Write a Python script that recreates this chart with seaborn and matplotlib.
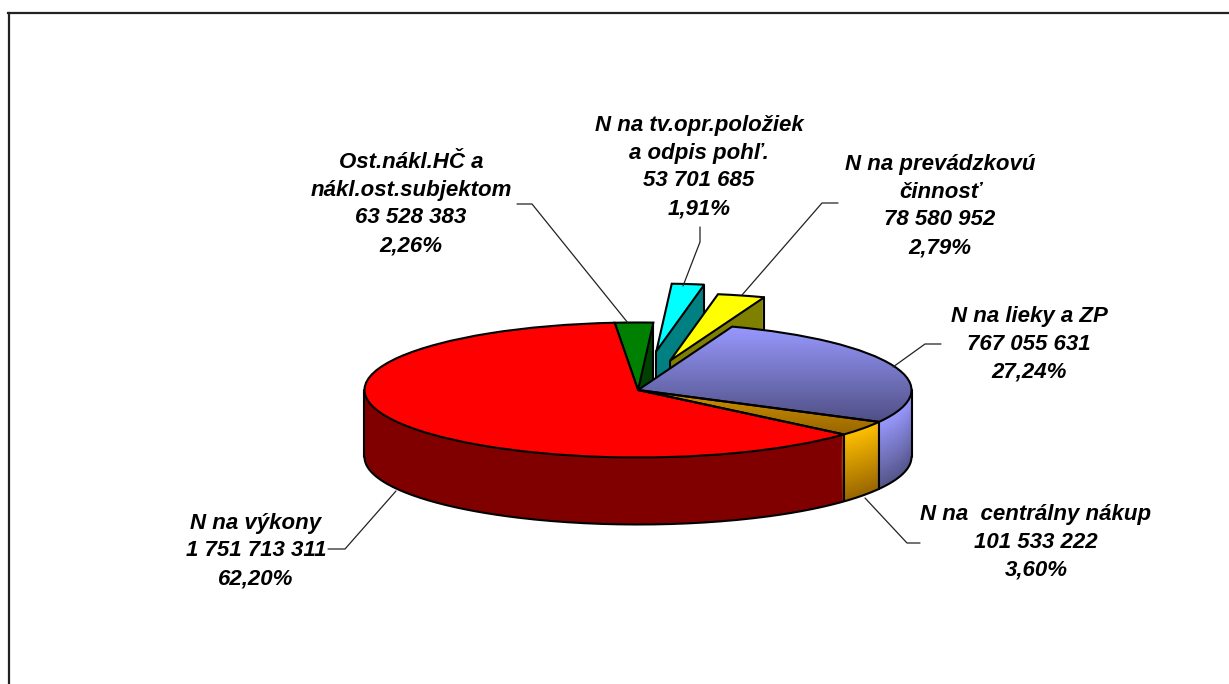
import numpy as np
import matplotlib
matplotlib.use("Agg")
import matplotlib.pyplot as plt
from matplotlib.colors import LinearSegmentedColormap, to_rgb
import seaborn as sns

# Chart data, clockwise from the top of the pie
names = ["Ost.nákl.HČ a\nnákl.ost.subjektom", "N na tv.opr.položiek\na odpis pohľ.",
         "N na prevádzkovú\nčinnosť", "N na lieky a ZP", "N na  centrálny nákup", "N na výkony"]
values = [63528383, 53701685, 78580952, 767055631, 101533222, 1751713311]
percents = [2.26, 1.91, 2.79, 27.24, 3.60, 62.20]
explode = [0, 0.58, 0.45, 0, 0, 0]

top_start = ["#008000", "#00FFFF", "#FFFF00", "#9999FF", "#D09400", "#FF0000"]
top_end = ["#008000", "#00FFFF", "#FFFF00", "#4F4F85", "#996600", "#FF0000"]
wall_start = ["#004000", "#008080", "#808000", "#9999FF", "#FFC000", "#800000"]
wall_end = ["#004000", "#008080", "#808000", "#55558A", "#996600", "#800000"]

# Layout, in pixels of the 1229x684 picture
W, H = 1229, 684
CX, CY, RX, RY = 638, 390, 273.5, 67.5
LEFT, TOP = 8.5, 13
START = 94.9
DEPTH = 67 / RY
N_LAYERS = 67

label_pos = [(411, 204), (699, 167), (940, 206), (1029, 344), (1036, 542), (256, 551)]
leaders = [[(517, 204), (532, 204), (628, 323)],
           [(700, 227), (700, 242), (683, 286)],
           [(838, 203), (822, 203), (742, 295)],
           [(941, 344), (925, 344), (893, 367)],
           [(920, 543), (907, 543), (865, 498)],
           [(328, 549), (345, 549), (396, 491)]]


def px(x, y):
    return (x - CX) / RX, (CY - y) / RY


def mix(a, b, t):
    a, b = np.array(to_rgb(a)), np.array(to_rgb(b))
    return tuple(a + (b - a) * t)


sns.set_theme(style="white", rc={"axes.edgecolor": "#222222", "axes.linewidth": 1.6})
plt.rcParams["font.family"] = ["Liberation Sans", "DejaVu Sans"]

fig = plt.figure(figsize=(W / 100, H / 100), dpi=100)
ax = fig.add_axes([LEFT / W, 0, 1 - LEFT / W, 1 - TOP / H])

back = [0, 1, 2]
fracs = np.array(values) / sum(values)
edges = START - 360 * np.concatenate([[0], np.cumsum(fracs)])
mids = (edges[:-1] + edges[1:]) / 2

# Sides of the pie: a stack of pies going down, dark colours
for k in range(N_LAYERS):
    t = 1 - k / (N_LAYERS - 1)  # 1 at the bottom, 0 just under the top
    colors = [mix(wall_start[i], wall_end[i], t) for i in range(len(values))]
    wedges, _ = ax.pie(values, explode=explode, colors=colors, startangle=START, counterclock=False,
                       center=(0, -DEPTH * t), wedgeprops=dict(linewidth=0))
    for i, w in enumerate(wedges):
        w.set_zorder(1000 * (i + 1) + k if i in back else 10000 + k)

# Top surface
wedges, _ = ax.pie(values, explode=explode, colors=top_start, startangle=START, counterclock=False,
                   wedgeprops=dict(linewidth=0))
for i, w in enumerate(wedges):
    w.set_zorder(1000 * (i + 1) + N_LAYERS + 1 if i in back else 20000)
    if top_start[i] != top_end[i]:
        cmap = LinearSegmentedColormap.from_list("top", [top_start[i], top_end[i]])
        box = w.get_path().get_extents()
        im = ax.imshow(np.linspace(0, 1, 256).reshape(-1, 1), cmap=cmap, aspect="auto", zorder=20001,
                       extent=(box.x0, box.x1, box.y0, box.y1), origin="upper")
        im.set_clip_path(w)

outlines, _ = ax.pie(values, explode=explode, colors=["none"] * len(values), startangle=START,
                     counterclock=False, wedgeprops=dict(linewidth=1.5, edgecolor="black"))
for i, w in enumerate(outlines):
    w.set_facecolor("none")
    w.set_zorder(1000 * (i + 1) + N_LAYERS + 2 if i in back else 20002)


# Black lines on the sides
def side_line(angle, i, outer=True):
    a, m = np.radians(angle), np.radians(mids[i])
    x = explode[i] * np.cos(m) + (np.cos(a) if outer else 0)
    y = explode[i] * np.sin(m) + (np.sin(a) if outer else 0)
    z = 1000 * (i + 1) + N_LAYERS + 0.5 if i in back else 15000
    ax.plot([x, x], [y, y - DEPTH], color="black", lw=1.5, zorder=z)


side_line(edges[1], 0)
side_line(edges[2], 1)
side_line(edges[3], 2)
side_line(edges[1], 1, outer=False)
side_line(edges[2], 2, outer=False)
side_line(edges[4], 3)
side_line(edges[5], 4)
side_line(0, 3)
side_line(180, 5)
arc = np.radians(np.linspace(180, 360, 200))
ax.plot(np.cos(arc), np.sin(arc) - DEPTH, color="black", lw=1.5, zorder=15000)

# Labels and leader lines
for i in range(len(values)):
    number = f"{values[i]:,}".replace(",", " ")
    pct = f"{percents[i]:.2f}%".replace(".", ",")
    x, y = px(*label_pos[i])
    ax.text(x, y, f"{names[i]}\n{number}\n{pct}", ha="center", va="center", fontsize=16,
            fontweight="bold", fontstyle="italic", color="black", linespacing=1.42, zorder=30000)
    line = np.array([px(*p) for p in leaders[i]])
    ax.plot(line[:, 0], line[:, 1], color="#222222", lw=0.9, zorder=25000)

ax.set_aspect("auto")
ax.set_xlim((LEFT - CX) / RX, (W - CX) / RX)
ax.set_ylim((CY - H) / RY, (CY - TOP) / RY)
ax.set_frame_on(True)
ax.set_xticks([])
ax.set_yticks([])
sns.despine(ax=ax, top=False, right=True, bottom=True)

fig.savefig("out.png", dpi=100, facecolor="white")
